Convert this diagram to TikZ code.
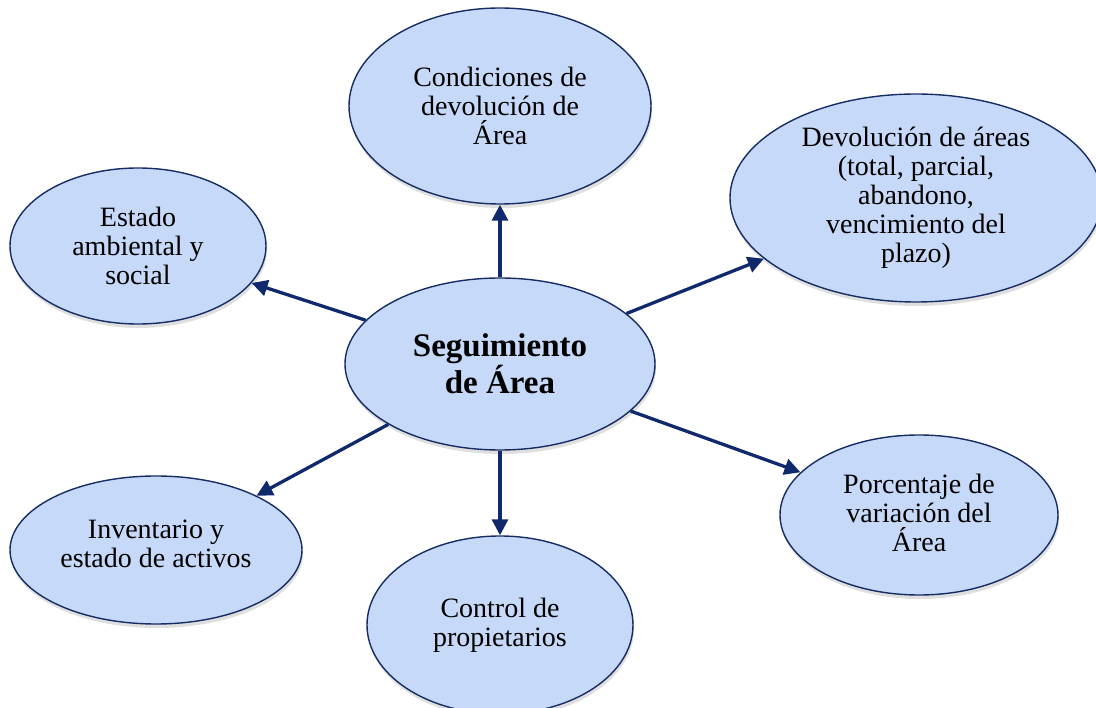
\documentclass[tikz,border=0pt]{standalone}
\usepackage{fontspec}
\setmainfont{Liberation Serif}
\usepackage{xcolor}
\usepackage{tikz}
\usetikzlibrary{shapes.geometric, arrows.meta, shadows}
\definecolor{ndfill}{RGB}{198,217,248}
\definecolor{ndline}{RGB}{22,44,100}
\definecolor{ndarrow}{RGB}{16,40,108}

\tikzset{
  area/.style={ellipse, draw=ndline, line width=1.4pt, fill=ndfill, inner sep=0pt,
    drop shadow={opacity=0.25, shadow xshift=1pt, shadow yshift=-4pt}},
  lbl/.style={align=center, font=\fontsize{28}{29}\selectfont},
  conn/.style={draw=ndarrow, line width=3.3pt, -{Triangle[length=16pt, width=16pt]}}
}

\begin{document}
\begin{tikzpicture}[x=1pt, y=-1pt]
  \useasboundingbox (0, 0) rectangle (1096, 708);
  \node[area, minimum width=302pt, minimum height=196pt] at (500, 106) (cond) {};
  \node[lbl] at (cond) (condtxt) {Condiciones de \\ devolución de \\ Área};
  \node[area, minimum width=372pt, minimum height=208pt] at (916, 198) (devol) {};
  \node[lbl] at (devol) (devoltxt) {Devolución de áreas \\ (total, parcial, \\ abandono, \\ vencimiento del \\ plazo)};
  \node[area, minimum width=256pt, minimum height=156pt] at (138, 246) (estado) {};
  \node[lbl] at (estado) (estadotxt) {Estado \\ ambiental y \\ social};
  \node[area, minimum width=278pt, minimum height=160pt] at (919, 515) (porc) {};
  \node[lbl] at (919, 513) (porctxt) {Porcentaje de \\ variación del \\ Área};
  \node[area, minimum width=292pt, minimum height=148pt] at (156, 550) (inv) {};
  \node[lbl] at (156, 544) (invtxt) {Inventario y \\ estado de activos};
  \node[area, minimum width=266pt, minimum height=178pt] at (500, 625) (ctrl) {};
  \node[lbl] at (ctrl) (ctrltxt) {Control de \\ propietarios};
  \node[area, minimum width=310pt, minimum height=172pt] at (500, 364) (seg) {};
  \node[align=center, font=\bfseries\fontsize{33}{33}\selectfont] at (seg) (segtxt) {Seguimiento \\ de Área};
  % conectores
  \draw[conn] (seg) -- (cond);
  \draw[conn] (seg) -- (devol);
  \draw[conn] (seg) -- (estado);
  \draw[conn] (seg) -- (porc);
  \draw[conn] (seg) -- (inv);
  \draw[conn] (seg) -- (ctrl);
\end{tikzpicture}
\end{document}
